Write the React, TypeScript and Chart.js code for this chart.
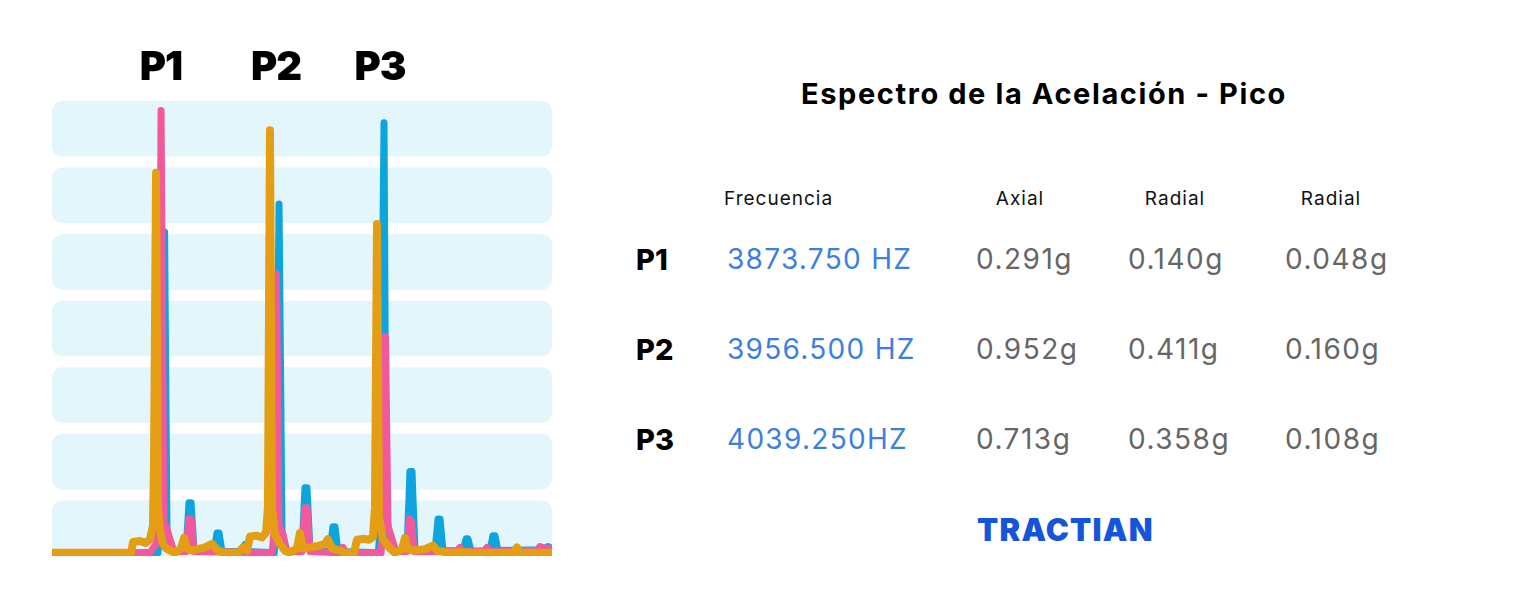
import React, { useEffect, useRef } from "react";
import { Chart, registerables } from "chart.js";

Chart.register(...registerables);

// Spectrum data: frequency (Hz) and peak acceleration (g, normalised display scale)
const orangeHz = [3795, 3853.5, 3855, 3860.1, 3864.6, 3867.5, 3869.7, 3870.5, 3872, 3873.4, 3874.9, 3877.1, 3879.4, 3882.3, 3886, 3890.5, 3892.7, 3894.9, 3898.6, 3903, 3908.2, 3913.4, 3917.8, 3923, 3932.6, 3936.3, 3939.3, 3941.5, 3946, 3950.4, 3953.4, 3954.8, 3956.3, 3957.8, 3960, 3963.7, 3967.4, 3971.1, 3976.3, 3978.5, 3980.7, 3985.9, 3991.8, 3997, 3999.2, 4002.2, 4008.1, 4011.8, 4018.5, 4020.7, 4025.1, 4029.6, 4032.5, 4034, 4035.5, 4037, 4039.9, 4045.1, 4048.8, 4054, 4056.2, 4058.4, 4063.6, 4071, 4076.9, 4079.9, 4089.5, 4096.9, 4108, 4136.9, 4139.1, 4141.3, 4165];
const orangeG = [0, 0, 0.024, 0.026, 0.022, 0.03, 0.06, 0.2, 0.841, 0.1, 0.05, 0.02, 0.01, 0.005, 0, 0.01, 0.033, 0.01, 0.005, 0.008, 0.012, 0.02, 0.005, 0, 0, 0.012, 0.005, 0.036, 0.038, 0.034, 0.045, 0.1, 0.935, 0.1, 0.04, 0.02, 0.005, 0, 0.01, 0.044, 0.01, 0.012, 0.015, 0.02, 0.03, 0.01, 0.005, 0, 0, 0.029, 0.031, 0.029, 0.035, 0.1, 0.728, 0.08, 0.03, 0.01, 0, 0.008, 0.033, 0.008, 0.005, 0.008, 0.016, 0.005, 0, 0.002, 0, 0, 0.012, 0, 0];

const pinkHz = [3795, 3867.5, 3872, 3874.2, 3875.7, 3877.9, 3879.4, 3882.3, 3885.3, 3894.2, 3896.4, 3897.9, 3900.1, 3958, 3959.3, 3961.1, 3963, 3965.9, 3968.9, 3980, 3982.2, 3983.7, 3985.9, 4008.1, 4010.3, 4012.6, 4038.5, 4039.9, 4041.8, 4043.6, 4046.6, 4049.6, 4057.7, 4059.6, 4061, 4062.9, 4094.7, 4096.9, 4099.1, 4114.7, 4116.9, 4119.1, 4153.9, 4156.1, 4159.8, 4165];
const pinkG = [0, 0, 0.02, 0.1, 0.979, 0.05, 0.06, 0.03, 0.003, 0.003, 0.075, 0.075, 0.003, 0, 0.05, 0.617, 0.06, 0.04, 0.003, 0.003, 0.1, 0.1, 0.003, 0, 0.012, 0, 0, 0.05, 0.479, 0.06, 0.03, 0.003, 0.003, 0.075, 0.07, 0.003, 0.003, 0.012, 0.003, 0.003, 0.012, 0.003, 0.006, 0.014, 0.01, 0.01];

const blueHz = [3795, 3873.4, 3876.4, 3878.3, 3880.1, 3883.8, 3894.2, 3896.4, 3897.9, 3900.1, 3914.9, 3917.1, 3918.6, 3920.8, 3935.6, 3937.8, 3940, 3959.5, 3960.8, 3963, 3965.2, 3968.2, 3980, 3982.2, 3983.7, 3985.9, 4000.7, 4002.9, 4004.4, 4006.6, 4036.5, 4037.7, 4040.7, 4042.2, 4044.4, 4047.3, 4057.7, 4059.9, 4061.4, 4063.6, 4078.4, 4080.7, 4082.1, 4084.3, 4099.1, 4101.4, 4102.8, 4105.1, 4119.1, 4121.3, 4122.8, 4125, 4158.3, 4162, 4165];
const blueG = [0, 0, 0.1, 0.71, 0.05, 0.003, 0.005, 0.111, 0.111, 0.005, 0.003, 0.044, 0.044, 0.003, 0.003, 0.018, 0.003, 0, 0.1, 0.772, 0.05, 0.003, 0.005, 0.144, 0.144, 0.005, 0.003, 0.058, 0.058, 0.003, 0, 0.05, 0.952, 0.1, 0.04, 0.003, 0.005, 0.18, 0.18, 0.005, 0.005, 0.075, 0.075, 0.005, 0.004, 0.031, 0.031, 0.004, 0.004, 0.038, 0.038, 0.005, 0.007, 0.014, 0.01];

const peakLabels = ["P1", "P2", "P3"];
const columnHeaders = ["Frecuencia", "Axial", "Radial", "Radial"];
const peakFreqText = ["3873.750 HZ", "3956.500 HZ", "4039.250HZ"];
const axialText = ["0.291g", "0.952g", "0.713g"];
const radial1Text = ["0.140g", "0.411g", "0.358g"];
const radial2Text = ["0.048g", "0.160g", "0.108g"];

const FONT = "Inter, 'Noto Sans', sans-serif";

const bandsPlugin = {
  id: "bands",
  beforeDatasetsDraw(chart: any) {
    const { ctx, chartArea } = chart;
    const n = 7;
    const gap = 11;
    const h = (chartArea.bottom - chartArea.top - gap * (n - 1)) / n;
    ctx.save();
    ctx.fillStyle = "#E3F6FC";
    for (let i = 0; i < n; i++) {
      const y = chartArea.top + i * (h + gap);
      ctx.beginPath();
      (ctx as any).roundRect(chartArea.left, y, chartArea.right - chartArea.left, h, 10);
      ctx.fill();
    }
    ctx.restore();
  },
};

function toPoints(xs: number[], ys: number[]) {
  return xs.map((x, i) => ({ x, y: ys[i] }));
}

function SpectrumChart() {
  const ref = useRef<HTMLCanvasElement>(null);
  useEffect(() => {
    if (!ref.current) return;
    const common = {
      pointRadius: 0,
      tension: 0,
      borderJoinStyle: "round",
      borderCapStyle: "round",
      fill: false,
    };
    const chart = new Chart(ref.current, {
      type: "line",
      data: {
        datasets: [
          { ...common, borderWidth: 8, label: "Axial", data: toPoints(orangeHz, orangeG), borderColor: "#E39E14" },
          { ...common, borderWidth: 7, label: "Radial", data: toPoints(pinkHz, pinkG), borderColor: "#F2589C" },
          { ...common, borderWidth: 7, label: "Radial 2", data: toPoints(blueHz, blueG), borderColor: "#0EA5DF" },
        ] as any,
      },
      options: {
        animation: false,
        responsive: false,
        layout: { padding: { left: 52, right: 48, top: 101, bottom: 42 } },
        plugins: { legend: { display: false }, tooltip: { enabled: false }, title: { display: false } },
        scales: {
          x: { type: "linear", min: 3795, max: 4165, display: false },
          y: { min: -0.007, max: 1.0, display: false },
        },
      } as any,
      plugins: [bandsPlugin],
    });
    return () => chart.destroy();
  }, []);
  return <canvas ref={ref} width={600} height={598} style={{ position: "absolute", left: 0, top: 0 }} />;
}

const abs = (left: number, top: number, extra: React.CSSProperties = {}): React.CSSProperties => ({
  position: "absolute",
  left,
  top,
  whiteSpace: "nowrap",
  lineHeight: 1,
  fontFamily: FONT,
  ...extra,
});

export default function App() {
  const peakLabelX = [161, 276, 380];
  const rowY = [259, 349, 439];
  const headerX = [724, 1020, 1175, 1331];
  return (
    <div style={{ position: "absolute", left: 0, top: 0, width: 1518, height: 598, background: "#fff", overflow: "hidden" }}>
      <SpectrumChart />
      {peakLabels.map((p, i) => (
        <div key={p} style={abs(peakLabelX[i], 66, { transform: "translate(-50%, -50%)", fontSize: 40, fontWeight: 900, color: "#000", letterSpacing: -1 })}>
          {p}
        </div>
      ))}
      <div style={abs(1044, 93, { transform: "translate(-50%, -50%)", fontSize: 29, fontWeight: 700, color: "#000", letterSpacing: 1.6 })}>
        Espectro de la Acelación - Pico
      </div>
      {columnHeaders.map((h, i) => (
        <div key={i} style={abs(headerX[i], 198, { transform: i === 0 ? "translateY(-50%)" : "translate(-50%, -50%)", fontSize: 19, fontWeight: 400, color: "#111", letterSpacing: 1 })}>
          {h}
        </div>
      ))}
      {peakLabels.map((p, i) => (
        <React.Fragment key={"row" + p}>
          <div style={abs(636, rowY[i], { transform: "translateY(-50%)", fontSize: 29, fontWeight: 800, color: "#000" })}>{p}</div>
          <div style={abs(727, rowY[i], { transform: "translateY(-50%)", fontSize: 28, fontWeight: 400, color: "#3D7FDE", letterSpacing: 1.3 })}>{peakFreqText[i]}</div>
          <div style={abs(976, rowY[i], { transform: "translateY(-50%)", fontSize: 28, fontWeight: 400, color: "#666", letterSpacing: 1.5 })}>{axialText[i]}</div>
          <div style={abs(1128, rowY[i], { transform: "translateY(-50%)", fontSize: 28, fontWeight: 400, color: "#666", letterSpacing: 1.5 })}>{radial1Text[i]}</div>
          <div style={abs(1285, rowY[i], { transform: "translateY(-50%)", fontSize: 28, fontWeight: 400, color: "#666", letterSpacing: 1.5 })}>{radial2Text[i]}</div>
        </React.Fragment>
      ))}
      <div style={abs(977, 529, { transform: "translateY(-50%)", fontSize: 31, fontWeight: 900, color: "#1455DA", letterSpacing: 1.2 })}>
        TRACTIAN
      </div>
    </div>
  );
}
